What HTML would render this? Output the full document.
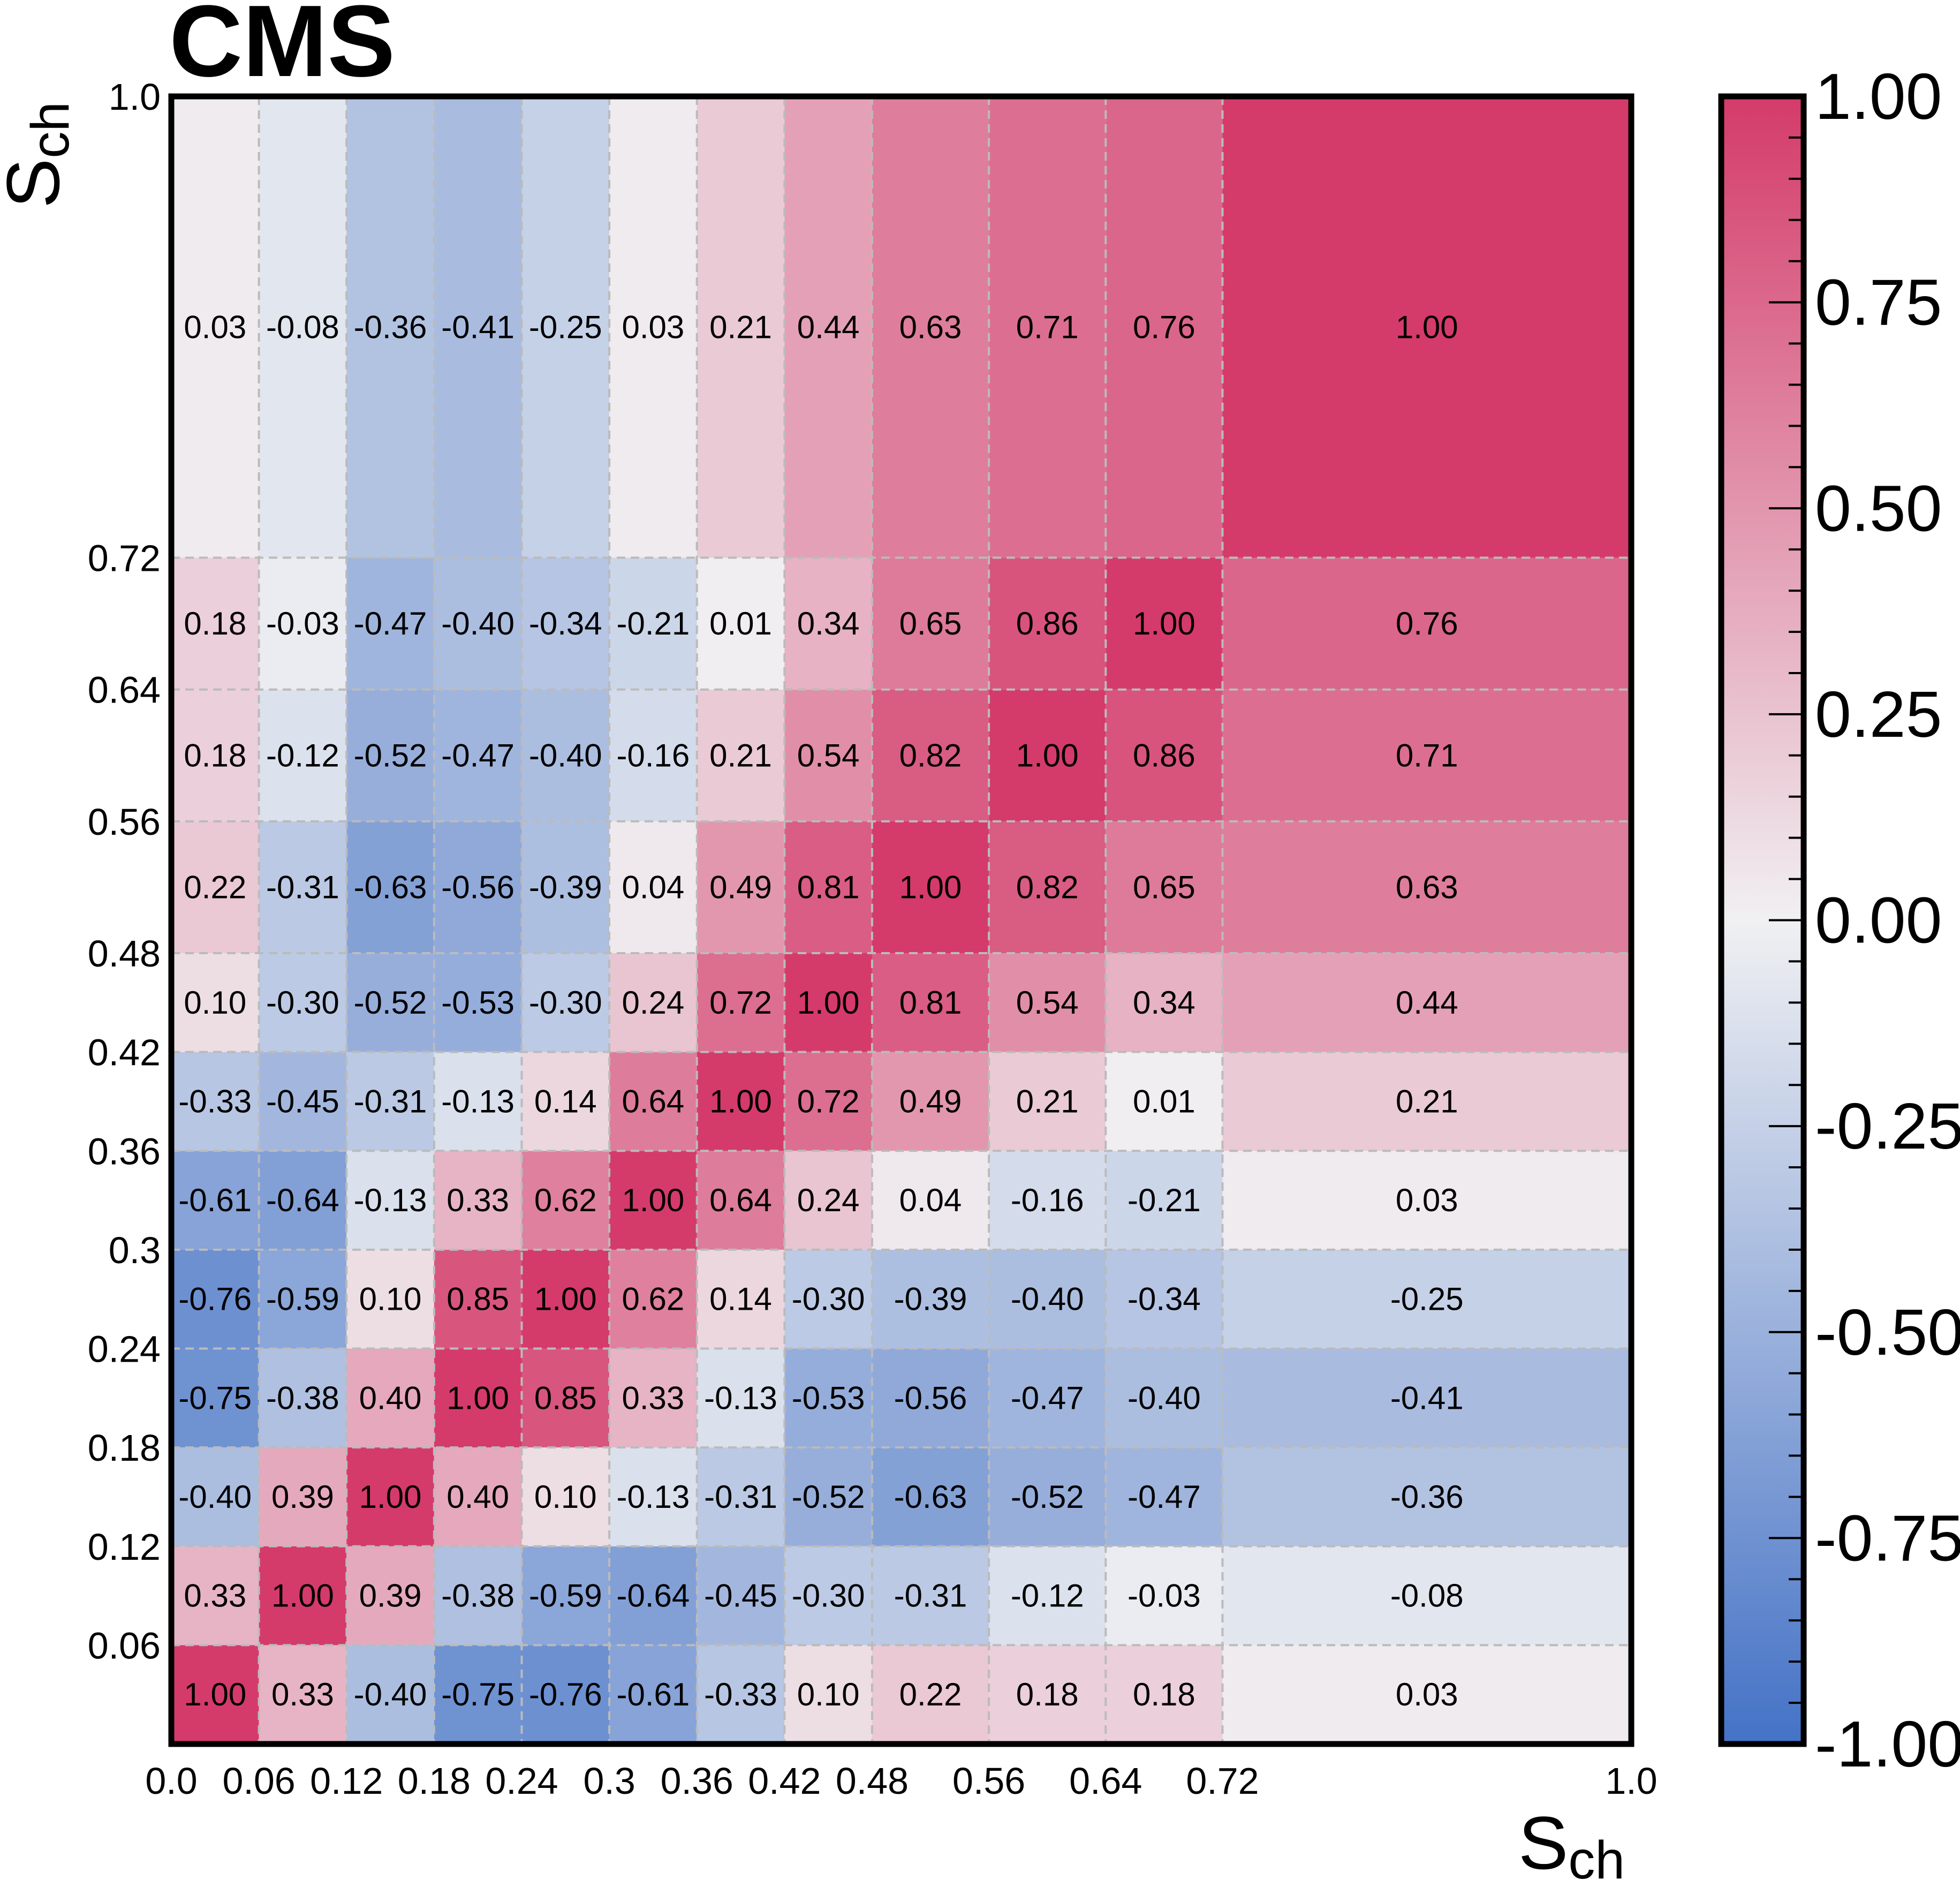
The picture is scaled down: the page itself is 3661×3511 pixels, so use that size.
<!DOCTYPE html>
<html><head><meta charset="utf-8"><style>
html,body{margin:0;padding:0;background:#fff;}
svg{display:block;font-family:"Liberation Sans",Arial,sans-serif;}
</style></head><body>
<svg id="chart" xmlns="http://www.w3.org/2000/svg" width="3661" height="3511" viewBox="0 0 3661 3511">
<defs>
<linearGradient id="cbgrad" x1="0" y1="1" x2="0" y2="0">
<stop offset="0" stop-color="rgb(68,114,198)"/>
<stop offset="0.5" stop-color="rgb(240,240,242)"/>
<stop offset="1" stop-color="rgb(212,59,106)"/>
</linearGradient>
</defs>
<text x="316" y="142" font-size="190" font-weight="bold">CMS</text>
<g id="cells"></g>
<g id="grid"></g>
<g id="labels"></g>
<rect x="320" y="180" width="2727" height="3077" fill="none" stroke="#000" stroke-width="11"/>
<g id="xticks"></g>
<g id="yticks"></g>
<text x="3035" y="3490" font-size="140" text-anchor="end">S<tspan font-size="100" dy="18">ch</tspan></text>
<text transform="translate(110,190) rotate(-90)" font-size="140" text-anchor="end">S<tspan font-size="100" dy="18">ch</tspan></text>
<rect x="3215" y="180" width="154" height="3077" fill="url(#cbgrad)" stroke="#000" stroke-width="11"/>
<g id="cbticks"></g>
</svg>
<script>
const xEdges = [0,0.06,0.12,0.18,0.24,0.3,0.36,0.42,0.48,0.56,0.64,0.72,1.0];
const yEdges = [0,0.06,0.12,0.18,0.24,0.3,0.36,0.42,0.48,0.56,0.64,0.72,1.0];
const xTickLabels = ["0.0","0.06","0.12","0.18","0.24","0.3","0.36","0.42","0.48","0.56","0.64","0.72","1.0"];
const yTickLabels = ["","0.06","0.12","0.18","0.24","0.3","0.36","0.42","0.48","0.56","0.64","0.72","1.0"];
// rows from bottom (y bin 0) to top
const row0 = [1.00,0.33,-0.40,-0.75,-0.76,-0.61,-0.33,0.10,0.22,0.18,0.18,0.03];
const row1 = [0.33,1.00,0.39,-0.38,-0.59,-0.64,-0.45,-0.30,-0.31,-0.12,-0.03,-0.08];
const row2 = [-0.40,0.39,1.00,0.40,0.10,-0.13,-0.31,-0.52,-0.63,-0.52,-0.47,-0.36];
const row3 = [-0.75,-0.38,0.40,1.00,0.85,0.33,-0.13,-0.53,-0.56,-0.47,-0.40,-0.41];
const row4 = [-0.76,-0.59,0.10,0.85,1.00,0.62,0.14,-0.30,-0.39,-0.40,-0.34,-0.25];
const row5 = [-0.61,-0.64,-0.13,0.33,0.62,1.00,0.64,0.24,0.04,-0.16,-0.21,0.03];
const row6 = [-0.33,-0.45,-0.31,-0.13,0.14,0.64,1.00,0.72,0.49,0.21,0.01,0.21];
const row7 = [0.10,-0.30,-0.52,-0.53,-0.30,0.24,0.72,1.00,0.81,0.54,0.34,0.44];
const row8 = [0.22,-0.31,-0.63,-0.56,-0.39,0.04,0.49,0.81,1.00,0.82,0.65,0.63];
const row9 = [0.18,-0.12,-0.52,-0.47,-0.40,-0.16,0.21,0.54,0.82,1.00,0.86,0.71];
const row10 = [0.18,-0.03,-0.47,-0.40,-0.34,-0.21,0.01,0.34,0.65,0.86,1.00,0.76];
const row11 = [0.03,-0.08,-0.36,-0.41,-0.25,0.03,0.21,0.44,0.63,0.71,0.76,1.00];
const rows = [row0,row1,row2,row3,row4,row5,row6,row7,row8,row9,row10,row11];
const cbTickValues = [1.00,0.75,0.50,0.25,0.00,-0.25,-0.50,-0.75,-1.00];

const NS = "http://www.w3.org/2000/svg";
const PX0=320, PX1=3047, PY0=3257, PY1=180;
const xs = v => PX0 + v*(PX1-PX0);
const ys = v => PY0 - v*(PY0-PY1);
const zs = v => PY0 - (v+1)/2*(PY0-PY1);
function color(v){
  const lo=[68,114,198], mid=[240,240,242], hi=[212,59,106];
  let a,b,t;
  if(v<0){a=mid;b=lo;t=-v;}else{a=mid;b=hi;t=v;}
  t=Math.max(0,Math.min(1,t));
  return "rgb("+a.map((c,i)=>Math.round(c+(b[i]-c)*t)).join(",")+")";
}
function mk(tag, attrs, parent){
  const e=document.createElementNS(NS,tag);
  for(const k in attrs) e.setAttribute(k,attrs[k]);
  parent.appendChild(e); return e;
}
const cells=document.getElementById("cells"), labels=document.getElementById("labels"), grid=document.getElementById("grid");
for(let i=0;i<rows.length;i++){
  for(let j=0;j<rows[i].length;j++){
    const v=rows[i][j];
    const x0=xs(xEdges[j]), x1=xs(xEdges[j+1]), y0=ys(yEdges[i+1]), y1=ys(yEdges[i]);
    const r=mk("rect",{x:x0,y:y0,width:x1-x0,height:y1-y0,fill:color(v)},cells);
    
    
    const t=mk("text",{x:(x0+x1)/2,y:(y0+y1)/2,"font-size":60,"text-anchor":"middle","dominant-baseline":"central"},labels);
    
    
    t.textContent=v.toFixed(2);
  }
}
for(let j=1;j<xEdges.length-1;j++){
  const l=mk("line",{x1:xs(xEdges[j]),x2:xs(xEdges[j]),y1:PY1,y2:PY0,stroke:"#bbb","stroke-width":4,"stroke-dasharray":"16 10"},grid);
  
  
}
for(let i=1;i<yEdges.length-1;i++){
  const l=mk("line",{x1:PX0,x2:PX1,y1:ys(yEdges[i]),y2:ys(yEdges[i]),stroke:"#bbb","stroke-width":4,"stroke-dasharray":"16 10"},grid);
  
  
}
const xt=document.getElementById("xticks");
xEdges.forEach((v,k)=>{
  const t=mk("text",{x:xs(v),y:3350,"font-size":70,"text-anchor":"middle"},xt);
  
  
  t.textContent=xTickLabels[k];
});
const yt=document.getElementById("yticks");
yEdges.forEach((v,k)=>{
  if(!yTickLabels[k]) return;
  const t=mk("text",{x:300,y:ys(v)+25,"font-size":70,"text-anchor":"end"},yt);
  
  
  t.textContent=yTickLabels[k];
});
const cb=document.getElementById("cbticks");
for(let k=0;k<=40;k++){
  const v=-1+k*0.05;
  const major=(k%5===0);
  const len=major?65:28;
  const l=mk("line",{x1:3369-len,x2:3369,y1:zs(v),y2:zs(v),stroke:"#000","stroke-width":4},cb);
  
  
}
cbTickValues.forEach(v=>{
  const t=mk("text",{x:3390,y:zs(v),"font-size":122,"dominant-baseline":"central"},cb);
  
  
  t.textContent=v.toFixed(2);
});
</script>
</body></html>
